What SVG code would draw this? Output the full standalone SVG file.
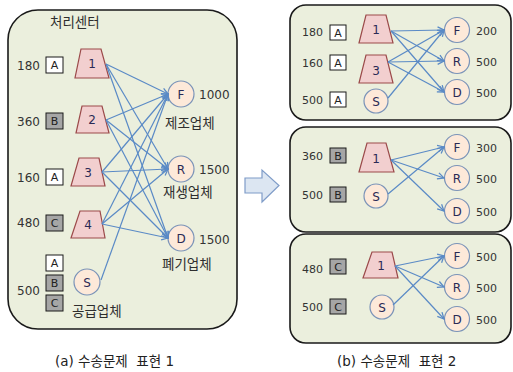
<svg xmlns="http://www.w3.org/2000/svg" width="513" height="372" viewBox="0 0 513 372">
  <style>
    .panel { fill: #ebefdd; stroke: #1a1a1a; stroke-width: 1.6; }
    .trap { fill: #f2cfcf; stroke: #9b4a4a; stroke-width: 1.2; }
    .node { fill: #fde9d9; stroke: #7a93b8; stroke-width: 1.2; }
    .boxA { fill: #ffffff; stroke: #1a1a1a; stroke-width: 1; }
    .boxG { fill: #a6a6a6; stroke: #1a1a1a; stroke-width: 1; }
    .num { font-family: "DejaVu Sans", "Noto Sans CJK KR", sans-serif; font-size: 12px; fill: #333333; }
    .numS { font-family: "DejaVu Sans", "Noto Sans CJK KR", sans-serif; font-size: 11px; fill: #333333; }
    .lbl { font-family: "DejaVu Sans", sans-serif; font-size: 11px; fill: #222222; text-anchor: middle; }
    .tid { font-family: "DejaVu Sans", sans-serif; font-size: 12px; fill: #2a2a55; text-anchor: middle; }
    .kr { font-family: "Noto Sans CJK KR", sans-serif; font-size: 13.5px; fill: #2e2e2e; }
    .cap { font-family: "DejaVu Sans", "Noto Sans CJK KR", sans-serif; font-size: 13.5px; fill: #222222; }
    .link { stroke: #5a8ac6; stroke-width: 1.2; fill: none; marker-end: url(#head); }
  </style>
  <defs>
    <marker id="head" viewBox="0 0 10 10" refX="9" refY="5" markerWidth="8" markerHeight="8" markerUnits="userSpaceOnUse" orient="auto">
      <path d="M1,1 L9,5 L1,9" fill="none" stroke="#5a8ac6" stroke-width="1.6"/>
    </marker>
  </defs>

  <!-- panel (a) -->
  <rect class="panel" x="8" y="10" width="229" height="319" rx="30"/>
  <text class="kr" x="50" y="27">처리센터</text>

  <g id="a-supply">
    <text class="num" x="17" y="70">180</text>
    <rect class="boxA" x="46" y="57" width="17" height="16"/><text class="lbl" x="54.5" y="69">A</text>
    <text class="num" x="17" y="126">360</text>
    <rect class="boxG" x="46" y="113" width="17" height="16"/><text class="lbl" x="54.5" y="125">B</text>
    <text class="num" x="17" y="182">160</text>
    <rect class="boxA" x="46" y="169" width="17" height="16"/><text class="lbl" x="54.5" y="181">A</text>
    <text class="num" x="17" y="227">480</text>
    <rect class="boxG" x="46" y="215" width="17" height="16"/><text class="lbl" x="54.5" y="227">C</text>
    <rect class="boxA" x="46" y="255" width="17" height="16"/><text class="lbl" x="54.5" y="267">A</text>
    <rect class="boxG" x="46" y="275" width="17" height="16"/><text class="lbl" x="54.5" y="287">B</text>
    <rect class="boxG" x="46" y="295" width="17" height="16"/><text class="lbl" x="54.5" y="307">C</text>
    <text class="num" x="17" y="295">500</text>
  </g>

  <g id="a-t1"><polygon class="trap" points="81,49 101,49 109,78 75,78"/><text class="tid" x="92" y="68">1</text></g>
  <g id="a-t2"><polygon class="trap" points="82,106 102,106 109,133 76,133"/><text class="tid" x="92" y="124">2</text></g>
  <g id="a-t3"><polygon class="trap" points="79,158 99,158 105,186 71,186"/><text class="tid" x="88" y="177">3</text></g>
  <g id="a-t4"><polygon class="trap" points="80,211 100,211 105,238 71,238"/><text class="tid" x="88" y="229">4</text></g>
  <g id="a-s"><circle class="node" cx="87" cy="282" r="13"/><text class="tid" x="87" y="286.5">S</text>
    <text class="kr" x="72" y="316">공급업체</text></g>

  <g id="a-f"><circle class="node" cx="181" cy="94" r="13"/><text class="tid" x="181" y="98.5">F</text>
    <text class="num" x="199" y="99">1000</text><text class="kr" x="165" y="128">제조업체</text></g>
  <g id="a-r"><circle class="node" cx="181" cy="169" r="13"/><text class="tid" x="181" y="173.5">R</text>
    <text class="num" x="199" y="174">1500</text><text class="kr" x="163" y="197">재생업체</text></g>
  <g id="a-d"><circle class="node" cx="181" cy="238" r="13"/><text class="tid" x="181" y="242.5">D</text>
    <text class="num" x="199" y="244">1500</text><text class="kr" x="162" y="269">폐기업체</text></g>

  <g id="a-links">
    <line class="link" x1="106" y1="64" x2="168" y2="94"/>
    <line class="link" x1="106" y1="64" x2="168" y2="169"/>
    <line class="link" x1="106" y1="64" x2="168" y2="238"/>
    <line class="link" x1="106" y1="120" x2="168" y2="94"/>
    <line class="link" x1="106" y1="120" x2="168" y2="169"/>
    <line class="link" x1="106" y1="120" x2="168" y2="238"/>
    <line class="link" x1="102" y1="172" x2="168" y2="94"/>
    <line class="link" x1="102" y1="172" x2="168" y2="169"/>
    <line class="link" x1="102" y1="172" x2="168" y2="238"/>
    <line class="link" x1="102" y1="224" x2="168" y2="94"/>
    <line class="link" x1="102" y1="224" x2="168" y2="169"/>
    <line class="link" x1="102" y1="224" x2="168" y2="238"/>
    <line class="link" x1="101" y1="280" x2="168" y2="94"/>
  </g>

  <!-- transition arrow -->
  <polygon points="245,178 262,178 262,170 279,185.5 262,202 262,193 245,193" fill="#dce6f2" stroke="#7f9cc8" stroke-width="1.2"/>

  <!-- panel (b), group 1 -->
  <rect class="panel" x="290" y="5" width="221" height="115" rx="16"/>
  <g id="b1-supply">
    <text class="numS" x="302" y="36">180</text>
    <rect class="boxA" x="330" y="25" width="16" height="15"/><text class="lbl" x="338" y="36.5">A</text>
    <text class="numS" x="302" y="67">160</text>
    <rect class="boxA" x="330" y="55" width="16" height="15"/><text class="lbl" x="338" y="66.5">A</text>
    <text class="numS" x="302" y="104">500</text>
    <rect class="boxA" x="330" y="92" width="16" height="15"/><text class="lbl" x="338" y="103.5">A</text>
  </g>
  <g id="b1-t1"><polygon class="trap" points="366,15 386,15 393,43 359,43"/><text class="tid" x="376" y="34">1</text></g>
  <g id="b1-t3"><polygon class="trap" points="366,55 386,55 393,83 359,83"/><text class="tid" x="376" y="75">3</text></g>
  <g id="b1-s"><circle class="node" cx="376" cy="101" r="12"/><text class="tid" x="376" y="105.5">S</text></g>
  <g id="b1-f"><circle class="node" cx="457" cy="30" r="12.5"/><text class="tid" x="457" y="34.5">F</text><text class="numS" x="476" y="35">200</text></g>
  <g id="b1-r"><circle class="node" cx="457" cy="61" r="12.5"/><text class="tid" x="457" y="65.5">R</text><text class="numS" x="476" y="66">500</text></g>
  <g id="b1-d"><circle class="node" cx="457" cy="92" r="12.5"/><text class="tid" x="457" y="96.5">D</text><text class="numS" x="476" y="97">500</text></g>
  <g id="b1-links">
    <line class="link" x1="391" y1="31" x2="444" y2="30"/>
    <line class="link" x1="391" y1="31" x2="444" y2="61"/>
    <line class="link" x1="391" y1="31" x2="444" y2="92"/>
    <line class="link" x1="388" y1="62" x2="444" y2="30"/>
    <line class="link" x1="388" y1="62" x2="444" y2="61"/>
    <line class="link" x1="388" y1="62" x2="444" y2="92"/>
    <line class="link" x1="388" y1="98" x2="444" y2="30"/>
  </g>

  <!-- panel (b), group 2 -->
  <rect class="panel" x="290" y="127" width="221" height="105" rx="16"/>
  <g id="b2-supply">
    <text class="numS" x="302" y="160">360</text>
    <rect class="boxG" x="330" y="148" width="16" height="15"/><text class="lbl" x="338" y="159.5">B</text>
    <text class="numS" x="302" y="199">500</text>
    <rect class="boxG" x="330" y="187" width="16" height="15"/><text class="lbl" x="338" y="198.5">B</text>
  </g>
  <g id="b2-t1"><polygon class="trap" points="367,143 386,143 394,172 359,172"/><text class="tid" x="376" y="163">1</text></g>
  <g id="b2-s"><circle class="node" cx="376" cy="196" r="12"/><text class="tid" x="376" y="200.5">S</text></g>
  <g id="b2-f"><circle class="node" cx="457" cy="147" r="12.5"/><text class="tid" x="457" y="151.5">F</text><text class="numS" x="476" y="152">300</text></g>
  <g id="b2-r"><circle class="node" cx="457" cy="178" r="12.5"/><text class="tid" x="457" y="182.5">R</text><text class="numS" x="476" y="183">500</text></g>
  <g id="b2-d"><circle class="node" cx="457" cy="211" r="12.5"/><text class="tid" x="457" y="215.5">D</text><text class="numS" x="476" y="216">500</text></g>
  <g id="b2-links">
    <line class="link" x1="391" y1="160" x2="444" y2="147"/>
    <line class="link" x1="391" y1="160" x2="444" y2="178"/>
    <line class="link" x1="391" y1="160" x2="444" y2="211"/>
    <line class="link" x1="388" y1="194" x2="444" y2="147"/>
  </g>

  <!-- panel (b), group 3 -->
  <rect class="panel" x="290" y="234" width="221" height="109" rx="16"/>
  <g id="b3-supply">
    <text class="numS" x="302" y="273">480</text>
    <rect class="boxG" x="330" y="259" width="16" height="15"/><text class="lbl" x="338" y="270.5">C</text>
    <text class="numS" x="302" y="311">500</text>
    <rect class="boxG" x="330" y="299" width="16" height="15"/><text class="lbl" x="338" y="310.5">C</text>
  </g>
  <g id="b3-t1"><polygon class="trap" points="372,252 392,252 398,278 363,278"/><text class="tid" x="381" y="270">1</text></g>
  <g id="b3-s"><circle class="node" cx="382" cy="307" r="12"/><text class="tid" x="382" y="311.5">S</text></g>
  <g id="b3-f"><circle class="node" cx="457" cy="256" r="12.5"/><text class="tid" x="457" y="260.5">F</text><text class="numS" x="476" y="261">500</text></g>
  <g id="b3-r"><circle class="node" cx="457" cy="287" r="12.5"/><text class="tid" x="457" y="291.5">R</text><text class="numS" x="476" y="292">500</text></g>
  <g id="b3-d"><circle class="node" cx="457" cy="319" r="12.5"/><text class="tid" x="457" y="323.5">D</text><text class="numS" x="476" y="324">500</text></g>
  <g id="b3-links">
    <line class="link" x1="395" y1="266" x2="444" y2="256"/>
    <line class="link" x1="395" y1="266" x2="444" y2="287"/>
    <line class="link" x1="395" y1="266" x2="444" y2="319"/>
    <line class="link" x1="393" y1="305" x2="444" y2="256"/>
  </g>

  <!-- captions -->
  <text class="cap" x="55" y="366" xml:space="preserve">(a) 수송문제  표현 1</text>
  <text class="cap" x="337" y="366" xml:space="preserve">(b) 수송문제  표현 2</text>
</svg>
